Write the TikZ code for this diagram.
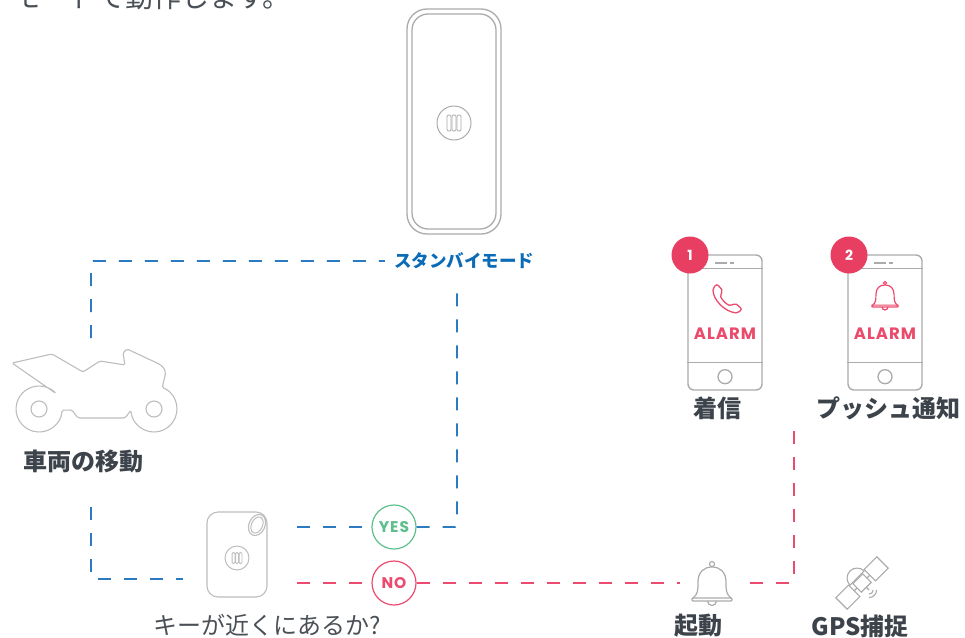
\documentclass[tikz,border=0pt]{standalone}
\usepackage{fontspec}
\setmainfont{Noto Sans CJK JP}
\newfontfamily\jpfont{Noto Sans CJK JP}
\newfontfamily\geofont{Poppins}
\newfontfamily\geowide{Poppins}[LetterSpace=6]
\usetikzlibrary{calc}

\definecolor{lineblue}{HTML}{2C7BC0}
\definecolor{textblue}{HTML}{0A6BB7}
\definecolor{linepink}{HTML}{EC4A6E}
\definecolor{alarmpink}{HTML}{EC4A6C}
\definecolor{badgepink}{HTML}{E83E62}
\definecolor{okgreen}{HTML}{5DC08C}
\definecolor{devgray}{HTML}{ABABAB}
\definecolor{lightgray}{HTML}{BDBDBD}
\definecolor{labeldark}{HTML}{3D434A}
\definecolor{textgray}{HTML}{4A5056}

\begin{document}
\begin{tikzpicture}[x=1pt, y=-1pt,
  dashblue/.style={draw=lineblue, line width=1.7pt, dash pattern=on 13pt off 13pt, rounded corners=2pt},
  dashpink/.style={draw=linepink, line width=1.7pt, dash pattern=on 13pt off 13pt, rounded corners=2pt},
  devline/.style={draw=devgray, line width=1.3pt},
  motoline/.style={draw=lightgray, line width=1.1pt, line join=round},
  captext/.style={inner sep=0, text=labeldark, font=\jpfont\bfseries\fontsize{24}{24}\selectfont},
  plaintext/.style={inner sep=0, text=textgray, font=\jpfont\fontsize{24}{24}\selectfont},
  answer/.style={circle, line width=1.2pt, minimum size=44pt, inner sep=0, fill=white,
    font=\geowide\bfseries\fontsize{15.5}{15.5}\selectfont},
  badge/.style={circle, fill=badgepink, minimum size=37pt, inner sep=0, text=white,
    font=\geofont\bfseries\fontsize{14}{14}\selectfont},
  alarmtext/.style={inner sep=0, text=alarmpink, font=\geowide\bfseries\fontsize{16.5}{16.5}\selectfont},
  phonebody/.style={draw=devgray, line width=1.4pt, rounded corners=6pt,
    minimum width=74pt, minimum height=135pt, inner sep=0},
  bellicon/.pic={
    \draw (0,0) circle (2.5);
    \draw (-19,34) .. controls (-14,30) and (-14,26) .. (-14,18)
      .. controls (-14,8) and (-8,3) .. (0,3)
      .. controls (8,3) and (14,8) .. (14,18)
      .. controls (14,26) and (14,30) .. (19,34);
    \draw[rounded corners=1pt] (-20,34) rectangle (20,37);
    \draw (-4.5,37) arc[start angle=180, end angle=0, radius=4.5];
  },
  bars/.pic={
    \draw[rounded corners=1.2pt] (-7,-8) rectangle (-3,8);
    \draw[rounded corners=1.2pt] (-2,-8) rectangle (2,8);
    \draw[rounded corners=1.2pt] (3,-8) rectangle (7,8);
  }
]
\useasboundingbox (0,0) rectangle (965,637);

% heading line running off the top edge
\node[anchor=base west, inner sep=0, text=textgray, font=\jpfont\fontsize{28}{28}\selectfont]
  (heading) at (13,7) {モードで動作します。};

% tall sensor tag
\draw[devline, rounded corners=20pt] (407,9) rectangle (501,234);
\draw[devline, rounded corners=16pt] (412,14) rectangle (496,229);
\draw[devline, line width=1pt] (454,123) circle (17);
\pic[draw=devgray, line width=0.9pt] at (454,123) {bars};

% standby label
\node[inner sep=0, text=textblue, font=\jpfont\bfseries\fontsize{17.5}{17.5}\selectfont]
  (standby) at (464,261) {スタンバイモード};

% motorcycle
\draw[motoline, rounded corners=1.5pt] (12,363) -- (52,354) -- (83,372) -- (100,361) -- (125,365)
  -- (123,353) -- (127,349) -- (157,363) .. controls (163,366) and (166,370) .. (165,376)
  -- (162.2,387.5) arc[start angle=-69, end angle=177, radius=23]
  -- (125,418) -- (78,418) -- (72,410) -- (62,410.2)
  arc[start angle=3, end angle=318, radius=23] -- cycle;
\draw[motoline] (39,409) circle (8);
\draw[motoline] (154,409) circle (8);
\node[captext] (move) at (83,461) {車両の移動};

% key fob tag
\draw[draw=lightgray, line width=1.1pt, rounded corners=11pt] (207,512) rectangle (267,597);
\draw[draw=lightgray, line width=1.1pt, rotate around={-25:(257,525)}] (257,525) ellipse [x radius=8, y radius=11];
\draw[draw=lightgray, line width=1pt, rotate around={-25:(257,525)}] (257,525) ellipse [x radius=5.5, y radius=8.5];
\draw[draw=lightgray, line width=1pt] (237,558) circle (12);
\pic[draw=lightgray, line width=0.8pt, scale=0.7] at (237,558) {bars};
\node[plaintext] (question) at (267,625) {キーが近くにあるか?};

% answers
\node[answer, draw=okgreen, text=okgreen] (yes) at (394,527) {YES};
\node[answer, draw=linepink, text=linepink] (no) at (394,583) {NO};

% connector end points
\coordinate (mUp) at (91,338);
\coordinate (mDown) at (91,507);
\coordinate (tagIn) at (183,579);
\coordinate (tagYes) at (297,527);
\coordinate (tagNo) at (297,583);
\coordinate (sbDrop) at (457,288);
\coordinate (bellIn) at (680,583);
\coordinate (bellOut) at (750,583);
\coordinate (pushUp) at (794,420);

% connectors
\draw[dashblue] (mUp) |- ([xshift=-9pt]standby.west);
\draw[dashblue] (mDown) |- (tagIn);
\draw[dashblue] (tagYes) -- (yes);
\draw[dashblue] (yes) -| (sbDrop);
\draw[dashpink] (tagNo) -- (no);
\draw[dashpink] (no) -- (bellIn);
\draw[dashpink] (bellOut) -| (pushUp);

% siren bell
\pic[draw=devgray, line width=1.2pt] at (712,564) {bellicon};
\node[captext] (start) at (698,626) {起動};

% satellite
\begin{scope}[shift={(862,583)}, rotate=45, draw=devgray, line width=1.1pt]
  \draw (-7,-6) rectangle (7,6);
  \draw (7,0) -- (11,0);
  \draw (-7,0) -- (-11,0);
  \draw (11,-8) rectangle (29,8);
  \draw (-29,-8) rectangle (-11,8);
  \draw (-10,-7) arc[start angle=180, end angle=360, radius=10] -- cycle;
  \draw (0,6) -- (0,10);
  \draw ($(0,10)+(45:4)$) arc[start angle=45, end angle=135, radius=4];
  \draw ($(0,10)+(45:7.5)$) arc[start angle=45, end angle=135, radius=7.5];
\end{scope}
\node[captext] (gps) at (860,626) {GPS捕捉};

% phone with call alarm
\node[phonebody] (phone1) at (725,322.5) {};
\draw[devline] ([yshift=-14pt]phone1.north west) -- ([yshift=-14pt]phone1.north east);
\draw[devline] ([yshift=28pt]phone1.south west) -- ([yshift=28pt]phone1.south east);
\draw[devline] (715,263) -- (727,263);
\draw[devline] (730,263) -- (734,263);
\draw[devline] ([yshift=14pt]phone1.south) circle (7);
\begin{scope}[shift={(712,283)}]
  \draw[draw=alarmpink, line width=1.3pt, rounded corners=2pt]
    (5,1) -- (11,8) -- (8,12) .. controls (10,17) and (14,21) .. (19,23)
    -- (23,20) -- (30,26) -- (26,30) .. controls (13,29) and (1,17) .. (1,5) -- cycle;
\end{scope}
\node[alarmtext] (alarm1) at (725,334) {ALARM};
\node[badge] (badge1) at (690,255) {1};
\node[captext] (call) at (717,408) {着信};

% phone with push alarm
\node[phonebody] (phone2) at (885,322.5) {};
\draw[devline] ([yshift=-14pt]phone2.north west) -- ([yshift=-14pt]phone2.north east);
\draw[devline] ([yshift=28pt]phone2.south west) -- ([yshift=28pt]phone2.south east);
\draw[devline] (874,263) -- (886,263);
\draw[devline] (889,263) -- (893,263);
\draw[devline] ([yshift=14pt]phone2.south) circle (7);
\pic[draw=alarmpink, line width=1.2pt, scale=0.65] at (885,283) {bellicon};
\node[alarmtext] (alarm2) at (885,334) {ALARM};
\node[badge] (badge2) at (849,255) {2};
\node[captext] (push) at (888,408) {プッシュ通知};

\end{tikzpicture}
\end{document}
